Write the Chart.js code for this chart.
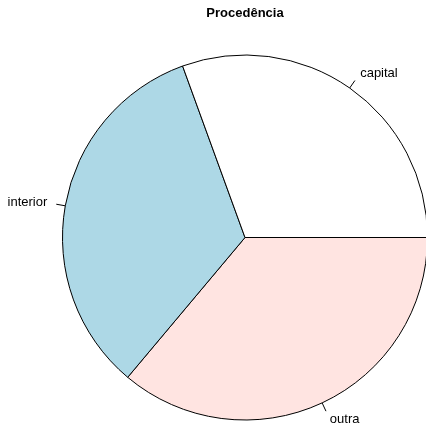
<!DOCTYPE html>
<html>
<head>
<meta charset="utf-8">
<script src="https://cdn.jsdelivr.net/npm/chart.js@4/dist/chart.umd.min.js"></script>
<style>
  html, body { margin: 0; padding: 0; background: #fff; overflow: hidden; }
  canvas { display: block; }
</style>
</head>
<body>
<canvas id="pieChart" width="440" height="426"></canvas>
<script>
const chartTitle = "Procedência";
const categories = ["capital", "interior", "outra"];
const counts = [11, 12, 13];
const sliceColors = ["#FFFFFF", "#ADD8E6", "#FFE4E1"];

// R draws counter-clockwise from 3 o'clock, Chart.js goes clockwise -> reverse order
const labelsCw = categories.slice().reverse();
const countsCw = counts.slice().reverse();
const colorsCw = sliceColors.slice().reverse();

const rLabels = {
  id: "rLabels",
  afterDraw(chart) {
    const ctx = chart.ctx;
    const meta = chart.getDatasetMeta(0);
    ctx.save();
    ctx.font = "13px 'Liberation Sans', Arial, sans-serif";
    ctx.fillStyle = "#000";
    ctx.strokeStyle = "#000";
    ctx.lineWidth = 1;
    meta.data.forEach((arc, i) => {
      const mid = (arc.startAngle + arc.endAngle) / 2;
      const r = arc.outerRadius;
      const c = Math.cos(mid), s = Math.sin(mid);
      ctx.beginPath();
      ctx.moveTo(arc.x + r * c, arc.y + r * s);
      ctx.lineTo(arc.x + 1.05 * r * c, arc.y + 1.05 * r * s);
      ctx.stroke();
      ctx.textAlign = c < 0 ? "right" : "left";
      ctx.textBaseline = "middle";
      ctx.fillText(labelsCw[i], arc.x + 1.1 * r * c, arc.y + 1.1 * r * s);
    });
    // title
    ctx.font = "bold 13px 'Liberation Sans', Arial, sans-serif";
    ctx.textAlign = "center";
    ctx.textBaseline = "middle";
    ctx.fillText(chartTitle, 245, 13);
    ctx.restore();
  }
};

new Chart(document.getElementById("pieChart"), {
  type: "pie",
  data: {
    labels: labelsCw,
    datasets: [{
      data: countsCw,
      backgroundColor: colorsCw,
      borderColor: "#000",
      borderWidth: 1
    }]
  },
  options: {
    responsive: false,
    animation: false,
    rotation: 90,
    layout: { padding: { left: 62, right: 12, top: 54.5, bottom: 5.5 } },
    plugins: {
      legend: { display: false },
      title: { display: false },
      tooltip: { enabled: false }
    }
  },
  plugins: [rLabels]
});
</script>
</body>
</html>
